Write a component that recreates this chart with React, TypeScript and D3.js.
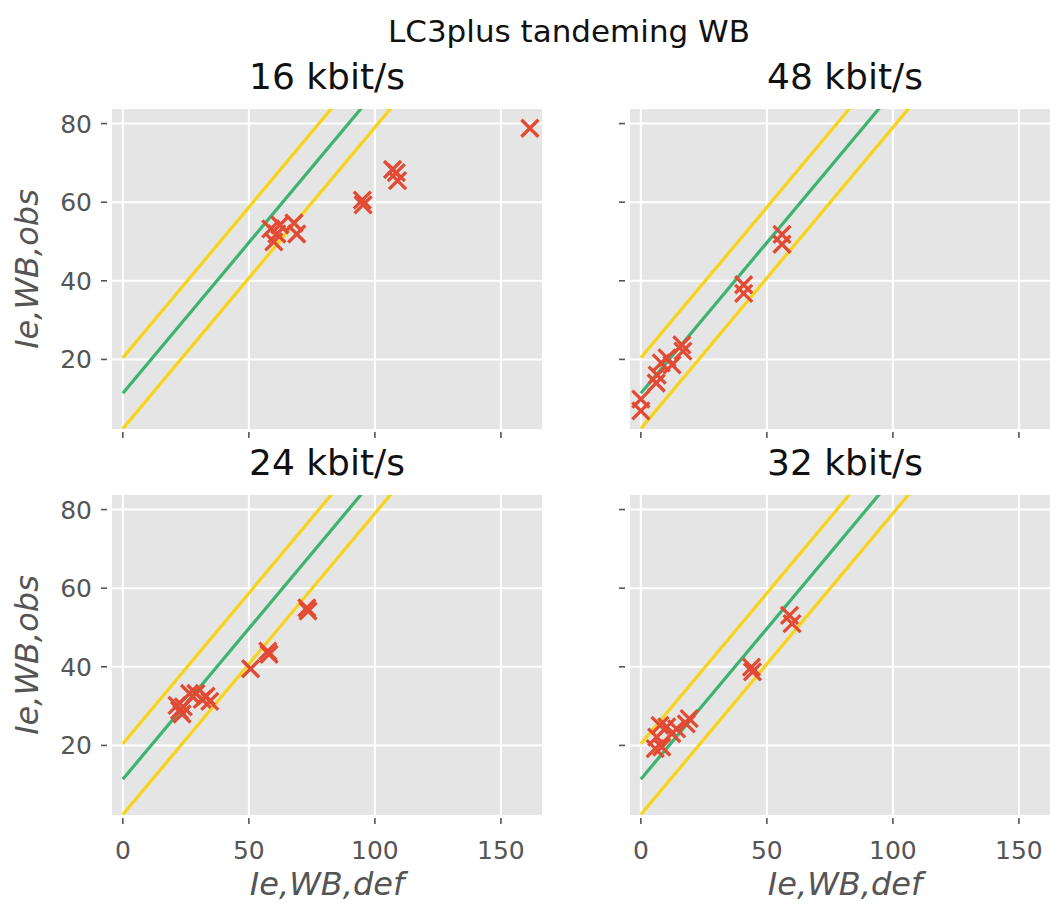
import React from "react";
import * as d3 from "d3";

const panelTitles = ["16 kbit/s", "48 kbit/s", "24 kbit/s", "32 kbit/s"];
const x16 = [58.7, 59.9, 62.3, 61.1, 67.9, 69.0, 95.0, 95.3, 107.0, 108.5, 109.0, 161.5];
const y16 = [53.2, 49.9, 54.2, 51.9, 54.7, 51.9, 60.5, 59.3, 68.3, 67.5, 65.5, 78.8];
const x48 = [0, 0, 6.1, 6.5, 8.1, 10.4, 12.4, 16.3, 16.7, 40.8, 40.8, 56.0, 56.0];
const y48 = [9.9, 6.9, 14.0, 16.0, 19.1, 20.4, 18.6, 23.7, 22.1, 39.0, 36.8, 51.8, 49.3];
const x24 = [21.5, 22.5, 23.5, 24.0, 26.5, 29.0, 31.5, 33.0, 34.5, 50.7, 57.5, 58.0, 73.0, 73.5];
const y24 = [30.2, 28.9, 28.0, 29.8, 33.2, 33.2, 31.7, 32.5, 31.2, 39.5, 44.0, 43.2, 55.0, 54.2];
const x32 = [5.7, 6.3, 7.6, 8.3, 10.3, 12.3, 14.2, 18.0, 19.2, 43.9, 44.3, 59.0, 60.0];
const y32 = [19.2, 22.1, 25.1, 19.6, 24.7, 23.0, 24.2, 25.5, 26.8, 39.9, 38.7, 53.1, 51.0];

const xTicks = [0, 50, 100, 150];
const yTicks = [20, 40, 60, 80];
const refLineX = [0, 130];
const greenLineY = [11.4, 111.0];
const upperLineY = [20.4, 120.0];
const lowerLineY = [2.4, 102.0];

const panelXs = [x16, x48, x24, x32];
const panelYs = [y16, y48, y24, y32];

const W = 1050;
const H = 902;
const PW = 430;
const PH = 320;
const lefts = [112, 630, 112, 630];
const tops = [109, 109, 495, 495];

const BG = "#E5E5E5";
const RED = "#E24A33";
const GREEN = "#3CB371";
const YELLOW = "#F7D417";
const TICK = "#555555";

function Panel({ i }: { i: number }) {
  const left = lefts[i];
  const top = tops[i];
  const x = d3.scaleLinear().domain([-4.3, 166.3]).range([left, left + PW]);
  const y = d3.scaleLinear().domain([2.3, 83.7]).range([top + PH, top]);
  const line = d3
    .line<number>()
    .x((_, k) => x(refLineX[k]))
    .y((v) => y(v));
  const isBottom = i >= 2;
  const isLeft = i % 2 === 0;
  const cx = left + PW / 2;
  const clipId = `clip${i}`;
  const s = 8.5;
  return (
    <g>
      <defs>
        <clipPath id={clipId}>
          <rect x={left} y={top} width={PW} height={PH} />
        </clipPath>
      </defs>
      <rect x={left} y={top} width={PW} height={PH} fill={BG} />
      {xTicks.map((t) => (
        <line key={"gx" + t} x1={x(t)} x2={x(t)} y1={top} y2={top + PH} stroke="#fff" strokeWidth={2} />
      ))}
      {yTicks.map((t) => (
        <line key={"gy" + t} x1={left} x2={left + PW} y1={y(t)} y2={y(t)} stroke="#fff" strokeWidth={2} />
      ))}
      <g clipPath={`url(#${clipId})`}>
        <path d={line(upperLineY) || ""} stroke={YELLOW} strokeWidth={3.2} fill="none" />
        <path d={line(greenLineY) || ""} stroke={GREEN} strokeWidth={3.2} fill="none" />
        <path d={line(lowerLineY) || ""} stroke={YELLOW} strokeWidth={3.2} fill="none" />
        {panelXs[i].map((vx, k) => {
          const px = x(vx);
          const py = y(panelYs[i][k]);
          return (
            <path
              key={k}
              d={`M${px - s},${py - s}L${px + s},${py + s}M${px - s},${py + s}L${px + s},${py - s}`}
              stroke={RED}
              strokeWidth={3.3}
              fill="none"
            />
          );
        })}
      </g>
      {xTicks.map((t) => (
        <line key={"tx" + t} x1={x(t)} x2={x(t)} y1={top + PH + 3} y2={top + PH + 9} stroke={TICK} strokeWidth={1.6} />
      ))}
      {yTicks.map((t) => (
        <line key={"ty" + t} x1={left - 11} x2={left - 5} y1={y(t)} y2={y(t)} stroke={TICK} strokeWidth={1.6} />
      ))}
      {isBottom &&
        xTicks.map((t) => (
          <text key={"lx" + t} x={x(t)} y={top + PH + 44} textAnchor="middle" fontSize={25} fill={TICK}>
            {t}
          </text>
        ))}
      {isLeft &&
        yTicks.map((t) => (
          <text key={"ly" + t} x={left - 20} y={y(t) + 9} textAnchor="end" fontSize={25} fill={TICK}>
            {t}
          </text>
        ))}
      <text x={cx} y={top - 20} textAnchor="middle" fontSize={36} fill="#111">
        {panelTitles[i]}
      </text>
      {isBottom && (
        <text x={cx} y={895} textAnchor="middle" fontSize={32} fontStyle="italic" fill={TICK}>
          Ie,WB,def
        </text>
      )}
      {isLeft && (
        <text
          transform={`translate(${38},${top + PH / 2}) rotate(-90)`}
          textAnchor="middle"
          fontSize={32}
          fontStyle="italic"
          fill={TICK}
        >
          Ie,WB,obs
        </text>
      )}
    </g>
  );
}

export default function App() {
  return (
    <svg
      width={W}
      height={H}
      style={{ position: "absolute", left: 0, top: 0, display: "block", background: "#fff" }}
      fontFamily="'DejaVu Sans', sans-serif"
    >
      <rect x={0} y={0} width={W} height={H} fill="#fff" />
      <text x={569} y={42} textAnchor="middle" fontSize={31} fill="#111">
        LC3plus tandeming WB
      </text>
      {[0, 1, 2, 3].map((i) => (
        <Panel key={i} i={i} />
      ))}
    </svg>
  );
}
